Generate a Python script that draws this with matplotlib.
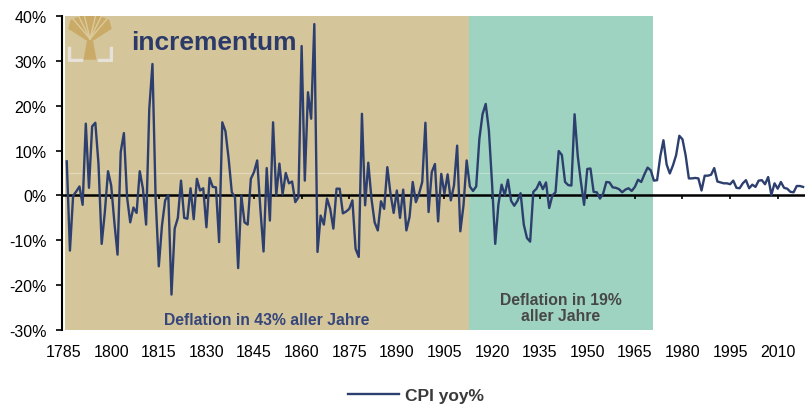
import numpy as np
import matplotlib.pyplot as plt
from matplotlib.lines import Line2D

plt.rcParams['font.family'] = ['Liberation Sans', 'DejaVu Sans']

# CPI yoy% per year
first_year = 1786
cpi_1786_1912 = [
    7.6, -12.3, -0.1, 0.9, 2.0, -2.1, 16.0, 1.7, 15.4, 16.2,
    7.0, -10.8, -3.7, 5.4, 2.2, -6.0, -13.2, 9.7, 13.9, -0.4,
    -6.0, -2.7, -3.9, 5.4, 1.5, -6.5, 19.3, 29.3, -0.7, -15.8,
    -6.7, -1.1, 0.1, -22.1, -7.4, -5.0, 3.3, -5.0, -5.2, 1.6,
    -5.3, 3.7, 1.1, 1.6, -7.1, 3.9, 1.9, 1.8, -10.4, 16.3,
    14.3, 8.2, 0.7, -0.4, -16.2, 0.0, -6.0, -6.5, 3.7, 5.2,
    7.8, -3.0, -12.5, 6.1, -5.6, 16.3, 0.0, 7.1, 0.2, 5.0,
    2.7, 3.1, -1.5, -0.4, 33.3, 3.3, 23.0, 17.1, 38.2, -12.6,
    -4.5, -6.5, -0.7, -3.0, -7.4, 1.5, 1.5, -4.0, -3.6, -3.0,
    -1.1, -11.9, -13.7, 18.2, -2.2, 7.3, -0.7, -6.0, -7.8, -1.3,
    -3.0, 6.3, 0.4, -3.9, 1.1, -5.0, 1.3, -7.8, -4.8, 3.0,
    -1.5, 0.4, 3.0, 16.2, -3.7, 5.2, 7.0, -5.8, 4.8, 0.4,
    4.7, -1.1, 2.2, 11.1, -8.0, -2.2, 7.8,
]
cpi_1913_1970 = [
    2.0, 1.0, 2.0, 12.6, 18.1, 20.4, 14.5, 2.6, -10.8, -2.0,
    2.4, 0.1, 3.5, -1.2, -2.3, -1.2, 0.5, -6.5, -9.5, -10.3,
    0.8, 1.5, 3.0, 1.4, 2.9, -2.8, 0.0, 0.7, 9.9, 9.0,
    3.0, 2.3, 2.2, 18.1, 8.8, 3.0, -2.1, 5.9, 6.0, 0.8,
    0.7, -0.7, 0.4, 3.0, 2.9, 1.8, 1.7, 1.4, 0.7, 1.3,
    1.6, 1.0, 1.9, 3.5, 3.0, 4.7, 6.2, 5.6,
]
cpi_1971_2018 = [
    3.3, 3.4, 8.7, 12.3, 6.9, 4.9, 6.7, 9.0, 13.3, 12.5,
    8.9, 3.8, 3.8, 3.9, 3.8, 1.1, 4.4, 4.4, 4.6, 6.1,
    3.1, 2.9, 2.7, 2.7, 2.5, 3.3, 1.7, 1.6, 2.7, 3.4,
    1.6, 2.4, 1.9, 3.3, 3.4, 2.5, 4.1, 0.1, 2.7, 1.5,
    3.0, 1.7, 1.5, 0.8, 0.7, 2.1, 2.1, 1.9,
]
tick_years = list(range(1785, 2011, 15))
y_ticks = list(range(-30, 41, 10))
era_bounds = [1785.5, 1912.7, 1970.6]
era_texts = ['Deflation in 43% aller Jahre', 'Deflation in 19%\naller Jahre']

cpi = np.array(cpi_1786_1912 + cpi_1913_1970 + cpi_1971_2018)
years = np.arange(first_year, first_year + len(cpi))

navy = '#2d3f6e'
fig = plt.figure(figsize=(8.05, 4.06), dpi=100)
ax = fig.add_axes([62 / 805, 1 - 331 / 406, 743 / 805, 314 / 406])
ax.set_xlim(1784.5, 2018.6)
ax.set_ylim(-30, 40)

# shaded eras
ax.axvspan(era_bounds[0], era_bounds[1], color='#d5c59b', lw=0, zorder=0)
ax.axvspan(era_bounds[1], era_bounds[2], color='#9dd3c0', lw=0, zorder=0)
ax.hlines(5, era_bounds[0], era_bounds[2], color='white', alpha=0.35, lw=0.8, zorder=1)

ax.axhline(0, color='black', lw=1.8, zorder=2)
ax.vlines(tick_years[1:], -0.9, 0, color='black', lw=1.2, zorder=2)
ax.plot(years, cpi, color=navy, lw=1.7, zorder=3)

ax.set_xticks(tick_years)
ax.set_xticklabels([str(y) for y in tick_years])
ax.tick_params(axis='x', length=0, pad=10, labelsize=11.5, colors='black')
ax.set_yticks(y_ticks)
ax.set_yticklabels([f'{v}%' for v in y_ticks])
ax.tick_params(axis='y', direction='out', length=4, width=1.2, pad=7, labelsize=11.5)
for side in ['top', 'right', 'bottom']:
    ax.spines[side].set_visible(False)
ax.spines['left'].set_linewidth(1.5)

ax.text((era_bounds[0] + era_bounds[1]) / 2, -27.6, era_texts[0], ha='center', va='center',
        fontsize=11.3, fontweight='bold', color='#34467a')
ax.text((era_bounds[1] + era_bounds[2]) / 2, -25.0, era_texts[1], ha='center', va='center',
        fontsize=11.3, fontweight='bold', color='#474747', linespacing=1.05)

# logo: tree with corner brackets
lax = fig.add_axes([67 / 805, 1 - 63 / 406, 46 / 805, 46 / 406])
lax.set_xlim(0, 1)
lax.set_ylim(0, 1)
lax.axis('off')
gold = '#c9aa66'
lax.fill([0.5, 0.03, 0.08, 0.3, 0.5, 0.7, 0.92, 0.97],
         [0.42, 0.72, 0.92, 1.0, 1.0, 1.0, 0.92, 0.72], color=gold, lw=0)
lax.fill([0.36, 0.64, 0.57, 0.43], [0.05, 0.05, 0.45, 0.45], color=gold, lw=0)
for tx, ty in [(0.12, 0.95), (0.25, 1.0), (0.38, 1.0), (0.62, 1.0), (0.75, 1.0), (0.88, 0.95)]:
    lax.plot([0.5, tx], [0.5, ty], color='#dcc99c', lw=1.0)
lax.plot([0.05, 0.05, 0.3], [0.3, 0.04, 0.04], color='#e6e2da', lw=2.5)
lax.plot([0.95, 0.95, 0.7], [0.3, 0.04, 0.04], color='#e6e2da', lw=2.5)
fig.text(131 / 805, 1 - 50 / 406, 'incrementum', fontsize=19, fontweight='bold', color='#2b3a68',
         va='baseline', ha='left')

handle = Line2D([], [], color=navy, lw=1.7)
fig.legend([handle], ['CPI yoy%'], loc='center', bbox_to_anchor=(416 / 805, 1 - 396 / 406),
           frameon=False, handlelength=2.9, handletextpad=0.35,
           prop={'size': 12.5, 'weight': 'bold'}, labelcolor='#3a3a3a')

fig.savefig('out.png', dpi=100)
